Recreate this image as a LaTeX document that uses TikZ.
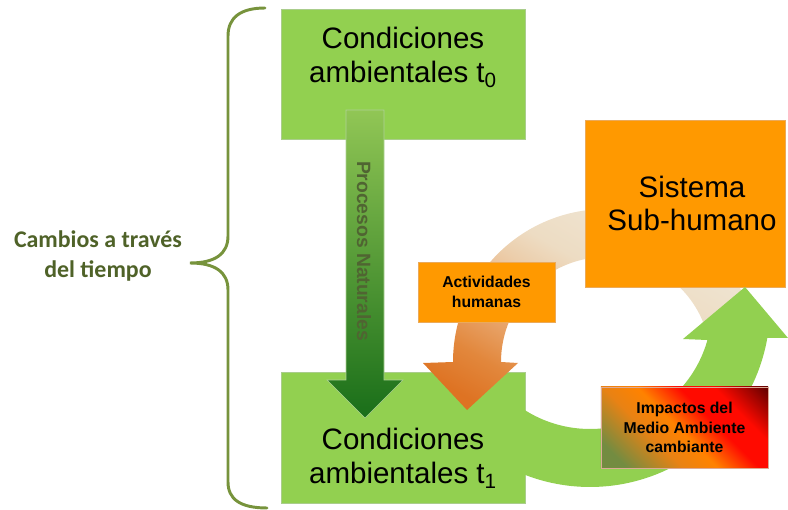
\documentclass[tikz,border=0pt]{standalone}
\usepackage{fontspec}
\setmainfont{Liberation Sans}
\newfontfamily\calibri{Carlito}
\usetikzlibrary{calc}

\definecolor{boxgreen}{RGB}{146,208,80}
\definecolor{greenedge}{RGB}{170,205,140}
\definecolor{boxorange}{RGB}{255,153,0}
\definecolor{orangeedge}{RGB}{235,170,90}
\definecolor{braceolive}{RGB}{119,147,60}
\definecolor{labelolive}{RGB}{79,98,40}
\definecolor{procolive}{RGB}{80,100,50}
\definecolor{creamA}{RGB}{222,115,35}
\definecolor{creamB}{RGB}{226,135,60}
\definecolor{creamC}{RGB}{234,172,118}
\definecolor{creamD}{RGB}{236,205,170}
\definecolor{creamF}{RGB}{237,220,195}
\definecolor{creamE}{RGB}{240,233,218}
\definecolor{impA}{RGB}{115,140,65}
\definecolor{impB}{RGB}{232,130,20}
\definecolor{impC}{RGB}{255,130,0}
\definecolor{impD}{RGB}{255,10,0}
\definecolor{impE}{RGB}{90,0,0}
\pgfdeclareverticalshading{creamshade}{100bp}{color(0bp)=(creamA); color(22bp)=(creamA); color(30bp)=(creamB); color(40bp)=(creamC); color(50bp)=(creamD); color(56bp)=(creamF); color(75bp)=(creamE); color(100bp)=(creamE)}
\pgfdeclarehorizontalshading{impactshade}{100bp}{color(0bp)=(impA); color(22bp)=(impA); color(38bp)=(impB); color(48bp)=(impC); color(60bp)=(impD); color(70bp)=(impD); color(86bp)=(impE); color(100bp)=(impE)}

\begin{document}
\begin{tikzpicture}[x=0.025cm, y=-0.025cm,
    greenbox/.style={fill=boxgreen, draw=greenedge, line width=0.5pt, minimum width=6.1cm, minimum height=3.25cm, inner sep=0pt},
    orangebox/.style={fill=boxorange, draw=orangeedge, line width=0.5pt, inner sep=0pt, align=center},
    bigtext/.style={align=center, font=\fontsize{21}{24.5}\selectfont},
    smalltext/.style={align=center, font=\bfseries\fontsize{11.2}{13.9}\selectfont}]
    \useasboundingbox (0,0) rectangle (788,510);
    \coordinate (gc) at (590,307);
    \coordinate (oc) at (606,362);
    \draw [braceolive, line width=2.1pt, line cap=round] (265,8) .. controls (240,8) and (228,18) .. (228,36) -- (228,236) .. controls (228,254) and (215,263) .. (190,263) .. controls (215,263) and (228,272) .. (228,290) -- (228,482) .. controls (228,499) and (240,508) .. (267,508);
    \node [align=center, text=labelolive, font=\calibri\bfseries\fontsize{17}{21}\selectfont] (cambios) at (98,256) {Cambios a través\\del tiempo};
    \node [greenbox] (t0box) at (403,74) {};
    \node [greenbox, minimum height=3.275cm] (t1box) at (403,437.5) {};
    \shade [shading=creamshade, shading angle=-30] ($(oc)+(-15:153)$) arc [start angle=-15, end angle=-180, radius=153] -- (423,363) -- (467,410) -- (518,363) -- ($(oc)+(180:105)$) arc [start angle=180, end angle=345, radius=105] -- cycle;
    \node [orangebox, minimum width=5cm, minimum height=4.175cm, font=\fontsize{21}{24}\selectfont] (sistema) at (685,203.5) {\hspace*{10pt}Sistema\\\hspace*{10pt}Sub-humano};
    \fill [boxgreen] ($(gc)+(122.2:122)$) arc [start angle=122.2, end angle=15.7, radius=122] -- (683,339) -- (745,287) -- (788,338) -- ($(gc)+(9.9:180)$) arc [start angle=9.9, end angle=111.2, radius=180] -- cycle;
    \node [orangebox, smalltext, minimum width=3.425cm, minimum height=1.5cm] (actividades) at (486.5,292) {Actividades\\humanas};
    \node [smalltext, shade, shading=impactshade, shading angle=45, draw={rgb,255:red,220;green,170;blue,150}, line width=0.5pt, minimum width=4.175cm, minimum height=2.025cm, inner sep=0pt] (impactos) at (684.5,427.5) {Impactos del\\Medio Ambiente\\cambiante};
    \shade [top color={rgb,255:red,145;green,198;blue,85}, middle color={rgb,255:red,150;green,180;blue,105}, bottom color={rgb,255:red,25;green,110;blue,25}, draw={rgb,255:red,175;green,210;blue,150}, line width=0.4pt] (346,110) -- (384,110) -- (384,380) -- (403,380) -- (365,418) -- (327,380) -- (346,380) -- cycle;
    \node [rotate=-90, text=procolive, font=\bfseries\fontsize{13.7}{16}\selectfont] (procesos) at (364,251) {Procesos Naturales};
    \node [bigtext] (t0text) at (403,57) {Condiciones\\ambientales t\textsubscript{0}};
    \node [bigtext] (t1text) at (403,458) {Condiciones\\ambientales t\textsubscript{1}};
\end{tikzpicture}
\end{document}
